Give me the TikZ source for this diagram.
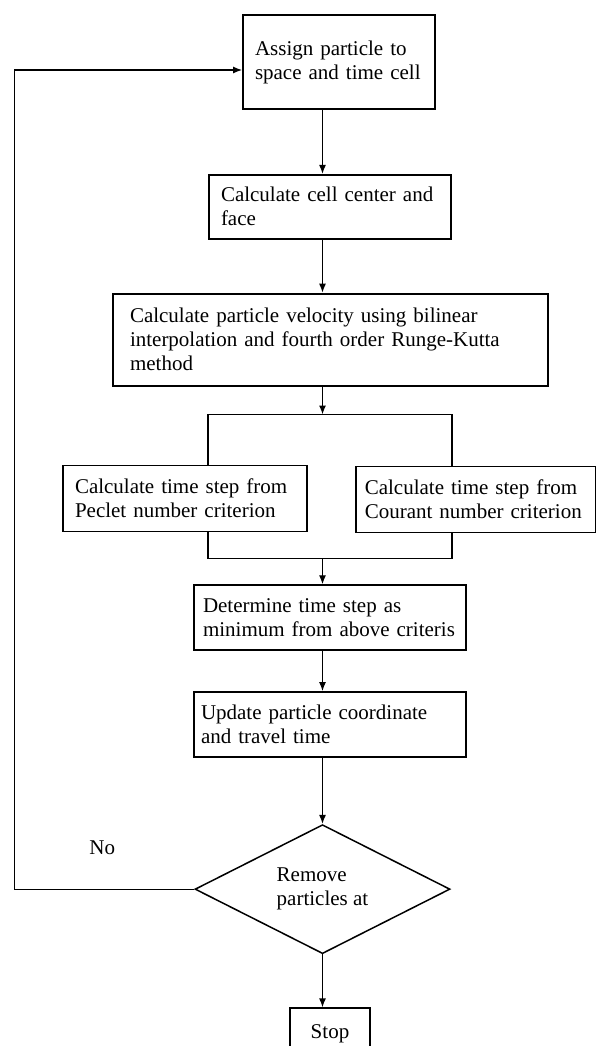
\documentclass[tikz,border=0pt]{standalone}
\usepackage{fontspec}
\setmainfont{Liberation Serif}
\usetikzlibrary{positioning,shapes.geometric,arrows.meta}

\begin{document}
\begin{tikzpicture}[
  x=1pt, y=1pt,
  font=\fontsize{21}{24}\selectfont,
  box/.style={rectangle, draw, line width=1.8pt, align=left, inner xsep=12pt, inner ysep=3pt},
  decision/.style={diamond, draw, line width=1.5pt, aspect=2, align=left, inner sep=0pt,
    minimum width=255pt, minimum height=129pt},
  line/.style={line width=1.3pt},
  arrow/.style={-{Latex[length=9pt,width=7pt]}, line width=1.3pt}
]
  \useasboundingbox (0,0) rectangle (595,-1046);

  \node[box, text width=168pt, minimum height=94pt] (assign) at (339,-62) {Assign particle to\\space and time cell};
  \node[box, text width=218pt, minimum height=64pt, below=64pt of assign, xshift=-9pt] (cell) {Calculate cell center and\\face};
  \node[box, text width=401pt, inner xsep=17pt, minimum height=92pt, below=53pt of cell, xshift=0.5pt] (velocity) {Calculate particle velocity using bilinear\\interpolation and fourth order Runge-Kutta\\method};
  \node[box, text width=220pt, minimum height=66pt, below=78pt of velocity, xshift=-145.5pt] (peclet) {Calculate time step from\\Peclet number criterion};
  \node[box, text width=222pt, inner xsep=9pt, minimum height=66pt, right=47pt of peclet, yshift=-1pt] (courant) {Calculate time step from\\Courant number criterion};
  \node[box, text width=254pt, inner xsep=9pt, minimum height=65pt, below=52pt of peclet, xshift=145pt] (determine) {Determine time step as\\minimum from above criteris};
  \node[box, text width=258pt, inner xsep=7pt, minimum height=65pt, below=40pt of determine] (update) {Update particle coordinate\\and travel time};
  \node[decision, below=66pt of update, xshift=-7.5pt] (check) {Remove\\particles at};
  \node[box, inner xsep=4pt, minimum width=80pt, minimum height=50pt, below=53pt of check, xshift=7.5pt] (stop) {Stop};
  \node (no) at ([shift={(-92pt,41pt)}]check.west) {No};

  \path (velocity.south -| check) ++(0,-28) coordinate (split);
  \path (peclet.south -| check) ++(0,-26) coordinate (join);
  \path (check.west) ++(-180,0) coordinate (back);

  \draw[arrow] (assign.south -| check) -- (cell.north -| check);
  \draw[arrow] (cell.south -| check) -- (velocity.north -| check);
  \draw[arrow] (velocity.south -| check) -- (split);
  \draw[line] (cell.west |- peclet.north) |- (split) -| (cell.east |- courant.north);
  \draw[line] (cell.west |- peclet.south) |- (join) -| (cell.east |- courant.south);
  \draw[arrow] (join) -- (determine.north -| check);
  \draw[arrow] (determine.south -| check) -- (update.north -| check);
  \draw[arrow] (update.south -| check) -- (check.north);
  \draw[arrow] (check.south) -- (stop.north -| check);
  \draw[arrow] (check.west) -- (back) |- ([yshift=-8pt]assign.west);
\end{tikzpicture}
\end{document}
